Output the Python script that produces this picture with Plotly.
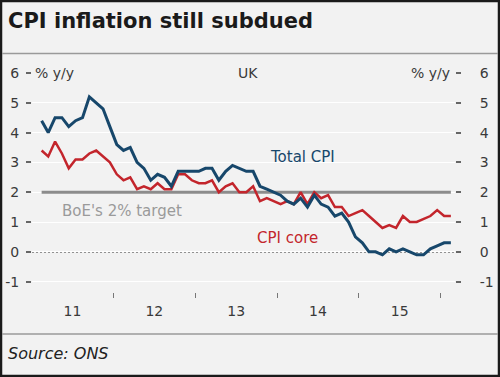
import plotly.graph_objects as go
import pandas as pd

# ---- data ----
months = pd.date_range("2011-02-01", "2016-02-01", freq="MS").strftime("%Y-%m-%d").tolist()

total_cpi = [4.4, 4.0, 4.5, 4.5, 4.2, 4.4, 4.5, 5.2, 5.0, 4.8, 4.2,
             3.6, 3.4, 3.5, 3.0, 2.8, 2.4, 2.6, 2.5, 2.2, 2.7, 2.7, 2.7,
             2.7, 2.8, 2.8, 2.4, 2.7, 2.9, 2.8, 2.7, 2.7, 2.2, 2.1, 2.0,
             1.9, 1.7, 1.6, 1.8, 1.5, 1.9, 1.6, 1.5, 1.2, 1.3, 1.0, 0.5,
             0.3, 0.0, 0.0, -0.1, 0.1, 0.0, 0.1, 0.0, -0.1, -0.1, 0.1, 0.2,
             0.3, 0.3]

core_cpi = [3.4, 3.2, 3.7, 3.3, 2.8, 3.1, 3.1, 3.3, 3.4, 3.2, 3.0,
            2.6, 2.4, 2.5, 2.1, 2.2, 2.1, 2.3, 2.1, 2.1, 2.6, 2.6, 2.4,
            2.3, 2.3, 2.4, 2.0, 2.2, 2.3, 2.0, 2.0, 2.2, 1.7, 1.8, 1.7,
            1.6, 1.7, 1.6, 2.0, 1.6, 2.0, 1.8, 1.9, 1.5, 1.5, 1.2, 1.3,
            1.4, 1.2, 1.0, 0.8, 0.9, 0.8, 1.2, 1.0, 1.0, 1.1, 1.2, 1.4,
            1.2, 1.2]

boe_target = [2.0] * len(months)

y_ticks = [-1, 0, 1, 2, 3, 4, 5, 6]
y_tick_labels = ["-1", "0", "1", "2", "3", "4", "5", "6"]

# ---- layout geometry (pixels) ----
W, H = 500, 377
L, R, T, B = 32, 45, 73, 79
PW, PH = W - L - R, H - T - B

def px(x):
    return (x - L) / PW

def py(y):
    return (H - B - y) / PH

FONT = "DejaVu Sans"
BLUE = "#17476b"
RED = "#c3252c"
GREY = "#8c8c8c"
TXT = "#3a3a3a"

fig = go.Figure()

fig.add_trace(go.Scatter(x=months, y=boe_target, mode="lines",
                         line=dict(color=GREY, width=3),
                         xperiod="M1", xperiodalignment="middle",
                         hoverinfo="skip", showlegend=False))
fig.add_trace(go.Scatter(x=months, y=core_cpi, mode="lines", name="CPI core",
                         line=dict(color=RED, width=2.5),
                         xperiod="M1", xperiodalignment="middle",
                         showlegend=False))
fig.add_trace(go.Scatter(x=months, y=total_cpi, mode="lines", name="Total CPI",
                         line=dict(color=BLUE, width=3),
                         xperiod="M1", xperiodalignment="middle",
                         showlegend=False))
# dummy trace to activate right axis
fig.add_trace(go.Scatter(x=[months[0]], y=[None], yaxis="y2",
                         showlegend=False, hoverinfo="skip"))

yr = [-1.55, 6]
fig.update_layout(
    width=W, height=H,
    margin=dict(l=L, r=R, t=T, b=B),
    paper_bgcolor="#f2f2f2",
    plot_bgcolor="#f2f2f2",
    font=dict(family=FONT, size=14, color=TXT),
    xaxis=dict(
        type="date", automargin=False,
        range=["2011-01-03", "2016-03-05"],
        tick0="2011-01-01", dtick="M12",
        ticklabelmode="period", tickformat="%y",
        ticks="inside", ticklen=5, tickwidth=1, tickcolor="#777",
        showgrid=False, zeroline=False, showline=False, ticklabelstandoff=3,
        tickfont=dict(size=14, color=TXT),
    ),
    yaxis=dict(
        range=yr, tickvals=y_ticks, ticktext=y_tick_labels, automargin=False,
        ticks="outside", ticklen=5, tickwidth=1.5, tickcolor="#666",
        showgrid=True, gridcolor="#ffffff", gridwidth=1.2,
        zeroline=False, showline=False, ticklabelstandoff=4,
        tickfont=dict(size=14, color=TXT),
    ),
    yaxis2=dict(
        range=yr, tickvals=y_ticks, ticktext=y_tick_labels, automargin=False,
        overlaying="y", side="right", anchor="x",
        ticks="outside", ticklen=5, tickwidth=1.5, tickcolor="#666",
        showgrid=False, zeroline=False, showline=False, ticklabelstandoff=16,
        tickfont=dict(size=14, color=TXT),
    ),
)

# zero line (dotted)
fig.add_shape(type="line", xref="paper", yref="y", x0=0, x1=1, y0=0, y1=0,
              line=dict(color="#333", width=1.5, dash="2px,2px"), layer="below")

# frame and separators
fig.add_shape(type="rect", xref="paper", yref="paper",
              x0=px(1), x1=px(W - 1), y0=py(H - 1), y1=py(1),
              line=dict(color="#1a1a1a", width=2.5))
fig.add_shape(type="line", xref="paper", yref="paper",
              x0=px(2), x1=px(W - 2), y0=py(53.5), y1=py(53.5),
              line=dict(color="#9a9a9a", width=1.5))
fig.add_shape(type="line", xref="paper", yref="paper",
              x0=px(2), x1=px(W - 2), y0=py(334), y1=py(334),
              line=dict(color="#9a9a9a", width=1.5))

ann = [
    dict(text="<b>CPI inflation still subdued</b>", x=px(6), y=py(21),
         xanchor="left", yanchor="middle", font=dict(size=21, color="#1a1a1a")),
    dict(text="<i>Source: ONS</i>", x=px(6), y=py(353),
         xanchor="left", yanchor="middle", font=dict(size=16, color="#222")),
    dict(text="% y/y", x=px(33), y=6, yref="y",
         xanchor="left", yanchor="middle", font=dict(size=14, color=TXT)),
    dict(text="% y/y", x=px(452), y=6, yref="y",
         xanchor="right", yanchor="middle", font=dict(size=14, color=TXT)),
    dict(text="UK", x=px(248), y=6, yref="y",
         xanchor="center", yanchor="middle", font=dict(size=14, color=TXT)),
    dict(text="Total CPI", x=px(268), y=py(157),
         xanchor="left", yanchor="middle", font=dict(size=15, color=BLUE)),
    dict(text="CPI core", x=px(255), y=py(238),
         xanchor="left", yanchor="middle", font=dict(size=15, color=RED)),
    dict(text="BoE's 2% target", x=px(60), y=py(211),
         xanchor="left", yanchor="middle", font=dict(size=15, color="#9a9a9a")),
]
for a in ann:
    a.setdefault("xref", "paper")
    a.setdefault("yref", "paper")
    a["showarrow"] = False
    fig.add_annotation(**a)

fig.write_html(
    "out.html",
    config={"displayModeBar": False},
    post_script="document.body.style.margin='0';document.body.style.padding='0';document.body.style.overflow='hidden';",
)
